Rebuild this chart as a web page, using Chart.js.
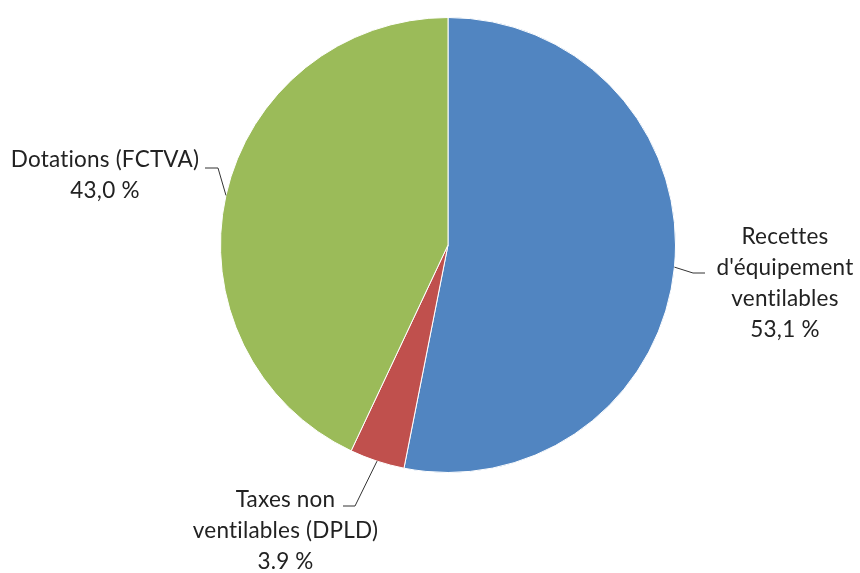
<!DOCTYPE html>
<html>
<head>
<meta charset="utf-8">
<script src="https://cdn.jsdelivr.net/npm/chart.js@4/dist/chart.umd.min.js"></script>
<style>
html,body{margin:0;padding:0;background:#fff;}
#wrap{width:860px;height:573px;position:relative;}
</style>
</head>
<body>
<div id="wrap"><canvas id="c" width="860" height="573"></canvas></div>
<script>
const categories = ["Recettes d'équipement ventilables", "Taxes non ventilables (DPLD)", "Dotations (FCTVA)"];
const labelLines = [["Recettes", "d'équipement", "ventilables"], ["Taxes non", "ventilables (DPLD)"], ["Dotations (FCTVA)"]];
const values = [53.1, 3.9, 43.0];
const percentLabels = ["53,1 %", "3.9 %", "43,0 %"];
const colors = ["#5185C1", "#C0504D", "#9BBB59"];

// label layout relative to pie centre (cx, cy) and radius r
const labelLayout = [
  { elbow: [245, 28], end: [257, 28], textX: 337, textY: 38.5, align: 'center' },
  { elbow: [-93, 261], end: [-105, 261], textX: -162.5, textY: 286, align: 'center' },
  { elbow: [-230, -77], end: [-243, -77], textX: -343, textY: -70, align: 'center' }
];

const FONT_FAMILY = "Lato, 'Open Sans', sans-serif";

const labelPlugin = {
  id: 'pieLabels',
  afterDatasetsDraw(chart) {
    const ctx = chart.ctx;
    const meta = chart.getDatasetMeta(0);
    ctx.save();
    if ('letterSpacing' in ctx) ctx.letterSpacing = '0.2px';
    // fit font to reference text width
    ctx.font = "20px " + FONT_FAMILY;
    const w = ctx.measureText("Dotations (FCTVA)").width;
    const size = Math.round(20 * 189 / w * 10) / 10;
    const font = size + "px " + FONT_FAMILY;
    const lineH = 31;
    meta.data.forEach((arc, i) => {
      const p = arc.getProps(['x', 'y', 'startAngle', 'endAngle', 'outerRadius'], true);
      const mid = (p.startAngle + p.endAngle) / 2;
      const ax = p.x + Math.cos(mid) * p.outerRadius;
      const ay = p.y + Math.sin(mid) * p.outerRadius;
      const L = labelLayout[i];
      ctx.strokeStyle = '#333333';
      ctx.lineWidth = 1;
      ctx.beginPath();
      ctx.moveTo(ax, ay);
      ctx.lineTo(p.x + L.elbow[0], p.y + L.elbow[1]);
      ctx.lineTo(p.x + L.end[0], p.y + L.end[1]);
      ctx.stroke();
      const lines = labelLines[i].concat([percentLabels[i]]);
      ctx.font = font;
      ctx.fillStyle = '#222222';
      ctx.textAlign = L.align;
      ctx.textBaseline = 'middle';
      const tx = p.x + L.textX;
      const top = p.y + L.textY - (lines.length - 1) * lineH / 2;
      lines.forEach((t, k) => ctx.fillText(t, tx, top + k * lineH));
    });
    ctx.restore();
  }
};

new Chart(document.getElementById('c'), {
  type: 'pie',
  data: {
    labels: categories,
    datasets: [{
      data: values,
      backgroundColor: colors,
      borderColor: '#ffffff',
      borderWidth: 1
    }]
  },
  options: {
    responsive: false,
    animation: false,
    layout: { padding: { top: 17, bottom: 100, left: 220, right: 184 } },
    plugins: { legend: { display: false }, tooltip: { enabled: false } }
  },
  plugins: [labelPlugin]
});
</script>
</body>
</html>
